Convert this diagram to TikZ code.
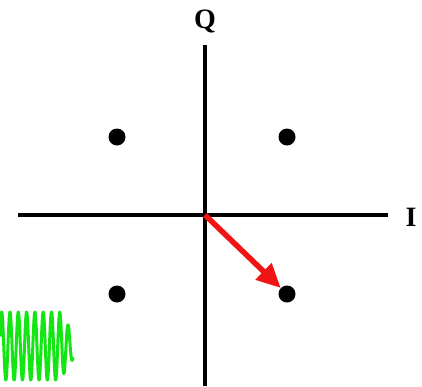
\documentclass[tikz,border=0pt]{standalone}
\usepackage{fontspec}
\setmainfont{Liberation Serif}
\usepackage{tikz}
\usetikzlibrary{arrows.meta}
\definecolor{vecred}{RGB}{240,20,20}
\definecolor{wavegreen}{RGB}{20,230,20}
\tikzset{
  axis/.style={line width=3.5pt},
  symbol/.style={circle,fill=black,inner sep=0pt,minimum size=17pt},
  axlabel/.style={font=\fontsize{28}{32}\selectfont\bfseries},
  phasor/.style={vecred,line width=5.5pt,-{Triangle[length=24pt,width=22pt]}}
}

\begin{document}
\begin{tikzpicture}[x=1pt,y=-1pt]
  \useasboundingbox (0,0) rectangle (422,386);
  % axes
  \coordinate (o) at (205,215);
  \coordinate (qtop) at (205,45);
  \coordinate (qbot) at (205,386);
  \coordinate (ileft) at (18,215);
  \coordinate (iright) at (388,215);
  \draw[axis] (qbot) -- (qtop);
  \draw[axis] (ileft) -- (iright);
  \node[axlabel] (qlab) at (205,21) {Q};
  \node[axlabel] (ilab) at (411,217) {I};
  % constellation points
  \node[symbol] (s1) at (117,137) {};
  \node[symbol] (s2) at (287,137) {};
  \node[symbol] (s3) at (117,294) {};
  \node[symbol] (s4) at (287,294) {};
  \draw[phasor] (o) -- (s4);
  % carrier (360/8.3 = 43.37 deg per px)
  \draw[wavegreen,line width=3pt,line join=round]
    plot[domain=0:73,samples=300]
    (\x,{346-min(34,34-1.6*(\x-60))*cos(43.37*(\x-1.7))});
\end{tikzpicture}
\end{document}
